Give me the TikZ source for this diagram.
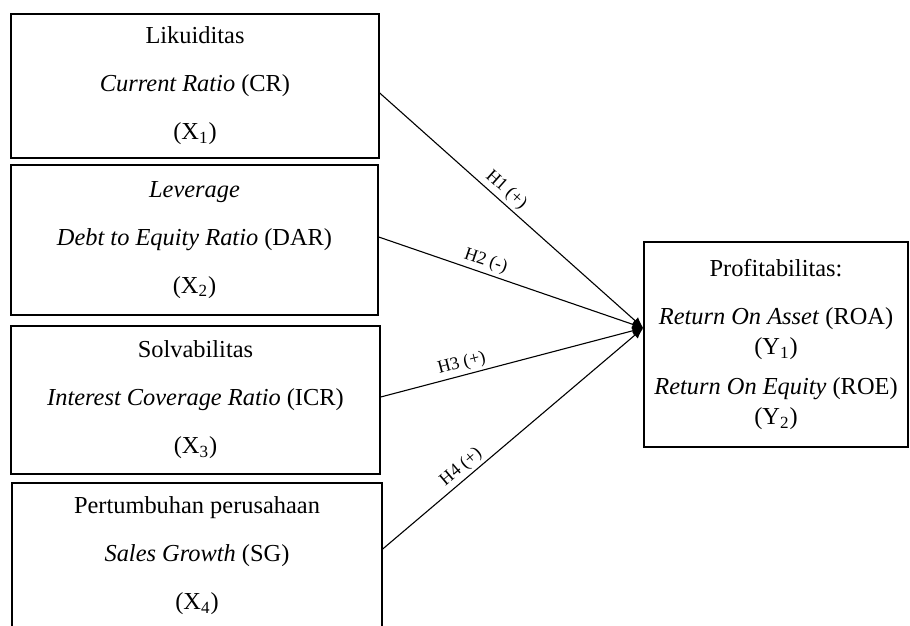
\documentclass[tikz,border=0pt]{standalone}
\usepackage{fontspec}
\setmainfont{Liberation Serif}
\usetikzlibrary{arrows.meta, calc}

\begin{document}
\begin{tikzpicture}[x=0.5pt, y=-0.5pt,
    % --- styles ---
    varbox/.style={draw, line width=0.7pt, inner sep=0pt, align=center,
        font={\fontsize{12.2}{24}\selectfont}},
    hyp/.style={line width=0.55pt, -{Latex[length=5.5pt, width=4.5pt]}},
    hlabel/.style={font={\fontsize{9}{10}\selectfont}, sloped, above, inner sep=1.5pt}
]
    \useasboundingbox (0,0) rectangle (910,626);

    % =========================================
    % variabel independen (kiri)
    % =========================================
    \node[varbox, minimum width=184pt, minimum height=72pt] (x1) at (195,86)
        {Likuiditas\\ \textit{Current Ratio} (CR)\\ (X\textsubscript{1})};
    \node[varbox, minimum width=183.5pt, minimum height=75pt] (x2) at (194.5,240)
        {\textit{Leverage}\\ \textit{Debt to Equity Ratio} (DAR)\\ (X\textsubscript{2})};
    \node[varbox, minimum width=184.5pt, minimum height=74pt] (x3) at (195.5,400)
        {Solvabilitas\\ \textit{Interest Coverage Ratio} (ICR)\\ (X\textsubscript{3})};
    \node[varbox, minimum width=185pt, minimum height=73pt] (x4) at (197,556)
        {Pertumbuhan perusahaan\\ \textit{Sales Growth} (SG)\\ (X\textsubscript{4})};

    % =========================================
    % variabel dependen (kanan)
    % =========================================
    \node[varbox, minimum width=132pt, minimum height=102.5pt,
        font={\fontsize{12.2}{15}\selectfont}] (prof) at (776,344.5)
        {Profitabilitas:\\[9pt] \textit{Return On Asset} (ROA)\\ (Y\textsubscript{1})\\[5pt]
         \textit{Return On Equity} (ROE)\\ (Y\textsubscript{2})};

    % --- titik temu panah ---
    \coordinate (tip) at ($(prof.north west)!0.42!(prof.south west)$);

    % --- hipotesis ---
    \draw[hyp] ([yshift=-3.5pt]x1.east) -- (tip) node[hlabel, pos=0.45] {H1 (+)};
    \draw[hyp] ([yshift=1.5pt]x2.east) -- (tip) node[hlabel, pos=0.39] {H2 (-)};
    \draw[hyp] ([yshift=1.5pt]x3.east) -- (tip) node[hlabel, pos=0.32] {H3 (+)};
    \draw[hyp] ([yshift=3.5pt]x4.east) -- (tip) node[hlabel, pos=0.33] {H4 (+)};

\end{tikzpicture}
\end{document}
